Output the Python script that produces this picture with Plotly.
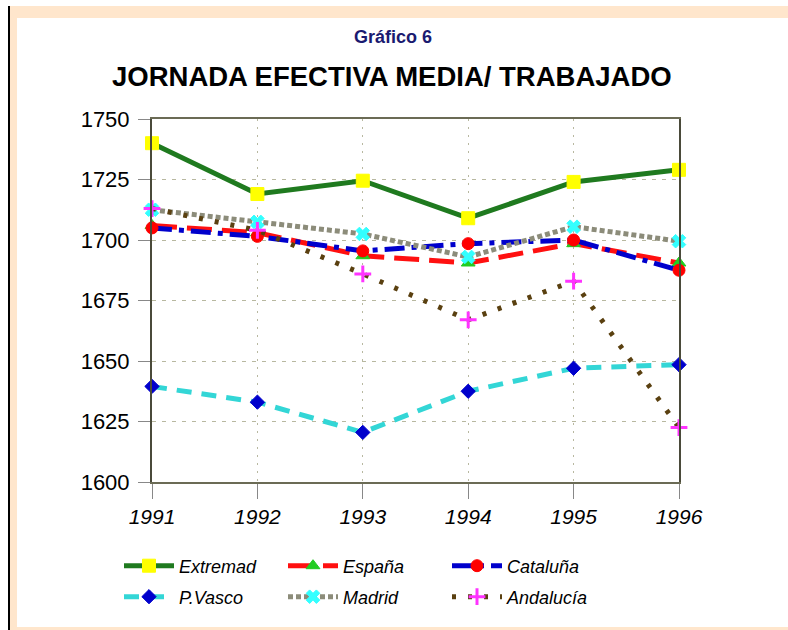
import plotly.graph_objects as go

years = [1991, 1992, 1993, 1994, 1995, 1996]
extremad = [1740, 1719, 1724.5, 1709, 1724, 1729]
espana = [1706, 1703, 1693.5, 1690.5, 1698.5, 1690.5]
cataluna = [1705, 1701.5, 1695.5, 1698.5, 1700, 1687.5]
pvasco = [1639.5, 1633, 1620.5, 1637.5, 1647, 1648.5]
madrid = [1712.5, 1707.5, 1702.5, 1693, 1705.5, 1699.5]
andalucia = [1713, 1704, 1686, 1667, 1683, 1622.5]
y_ticks = [1600, 1625, 1650, 1675, 1700, 1725, 1750]

W, H = 788, 630
L, R, T, B = 152, 679, 119, 482

def px(x):
    return (x - L) / (R - L)

def py(y):
    return 1 - (y - T) / (B - T)

series = [
    ("Extremad", extremad, "#1f7a1f", "solid", "square", "#ffff00", 5, 13, "legend"),
    ("España", espana, "#ff1010", "25px,10px", "triangle-up", "#22cc22", 5, 12, "legend"),
    ("Cataluña", cataluna, "#0000cc", "20px,7px,5px,7px", "circle", "#ff0000", 5, 12, "legend"),
    ("P.Vasco", pvasco, "#33d6d6", "15px,10px", "diamond", "#0000cc", 5, 11, "legend2"),
    ("Madrid", madrid, "#8c8c7a", "5px,3px", "x", "#33ffff", 5, 12, "legend2"),
    ("Andalucía", andalucia, "#5a4010", "4px,12px", "cross-thin", "#ff33ff", 5, 12, "legend2"),
]

fig = go.Figure()
for name, vals, lc, dash, sym, mc, lw, ms, lg in series:
    marker = dict(symbol=sym, color=mc, size=ms, line=dict(color=mc, width=3 if sym == "cross-thin" else 1))
    fig.add_trace(go.Scatter(
        x=years, y=vals, name=name, mode="lines+markers",
        line=dict(color=lc, width=lw, dash=dash),
        marker=marker, legend=lg, cliponaxis=False,
    ))

shapes = [
    dict(type="rect", xref="paper", yref="paper", x0=px(10), x1=px(W + 5), y0=py(H + 5), y1=py(6),
         fillcolor="#ffe6cc", line=dict(width=0), layer="below"),
    dict(type="rect", xref="paper", yref="paper", x0=px(17), x1=px(W + 5), y0=py(627), y1=py(18),
         fillcolor="#ffffff", line=dict(width=0), layer="below"),
    dict(type="line", xref="paper", yref="paper", x0=px(9), x1=px(9), y0=py(H + 5), y1=py(6),
         line=dict(color="#000000", width=2)),
]

annotations = [
    dict(text="<b>Gráfico 6</b>", x=px(393), y=py(37), xref="paper", yref="paper",
         showarrow=False, font=dict(family="Liberation Sans, Arial", size=18, color="#1a1a70"),
         xanchor="center", yanchor="middle"),
    dict(text="<b>JORNADA EFECTIVA MEDIA/ TRABAJADO</b>", x=px(392), y=py(77), xref="paper", yref="paper",
         showarrow=False, font=dict(family="Liberation Sans, Arial", size=27.5, color="#000000"),
         xanchor="center", yanchor="middle"),
]

legend_font = dict(family="Liberation Sans, Arial", size=18, color="#000000", style="italic")

fig.update_layout(
    width=W, height=H,
    margin=dict(l=L, r=W - R, t=T, b=H - B, autoexpand=False),
    paper_bgcolor="#ffffff",
    plot_bgcolor="#fafac8",
    shapes=shapes,
    annotations=annotations,
    showlegend=True,
    legend=dict(orientation="h", x=px(119), y=py(566), xanchor="left", yanchor="middle",
                entrywidth=99, entrywidthmode="pixels", font=legend_font,
                bgcolor="rgba(0,0,0,0)", itemwidth=50, tracegroupgap=0),
    legend2=dict(orientation="h", x=px(119), y=py(597), xanchor="left", yanchor="middle",
                 entrywidth=99, entrywidthmode="pixels", font=legend_font,
                 bgcolor="rgba(0,0,0,0)", itemwidth=50, tracegroupgap=0),
    xaxis=dict(range=[1991, 1996], tickvals=years, ticktext=[str(y) for y in years],
               showgrid=True, gridcolor="#b8b8a0", griddash="2px,6px", gridwidth=1,
               showline=True, linecolor="#6b6b55", linewidth=2, mirror=True,
               ticks="outside", ticklen=15, tickcolor="#888888",
               tickfont=dict(family="Liberation Sans, Arial", size=21, color="#000000", style="italic"),
               zeroline=False),
    yaxis=dict(range=[1600, 1750], tickvals=y_ticks, ticktext=[str(v) for v in y_ticks],
               showgrid=True, gridcolor="#b8b8a0", griddash="4px,6px", gridwidth=1,
               showline=True, linecolor="#4a4a3a", linewidth=2, mirror=True,
               ticks="outside", ticklen=12, tickcolor="#888888", ticklabelstandoff=4,
               tickfont=dict(family="Liberation Sans, Arial", size=22, color="#000000"),
               zeroline=False),
)

fig.write_html("out.html", config={"displayModeBar": False},
               post_script="document.body.style.margin='0';")
